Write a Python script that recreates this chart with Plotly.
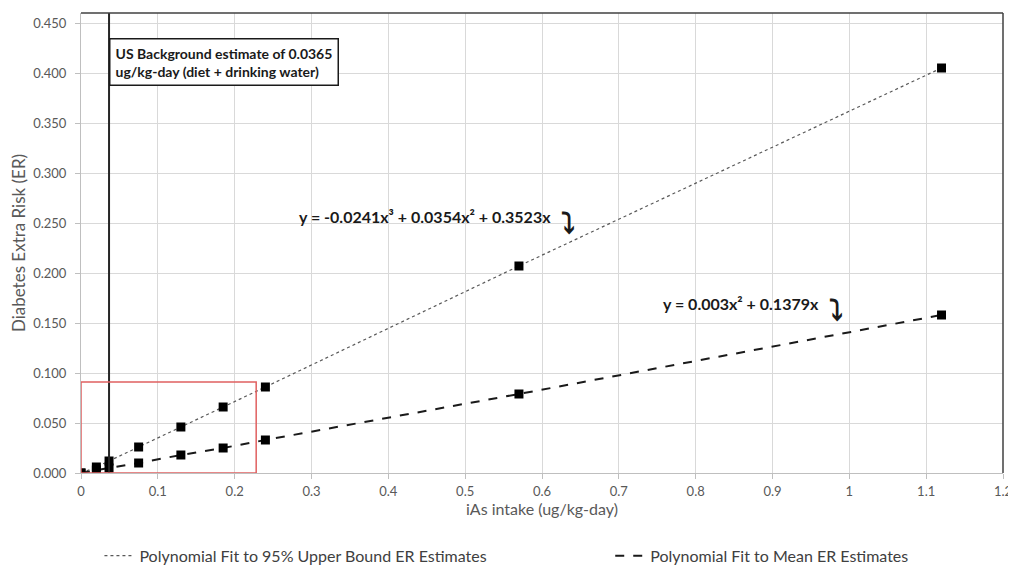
import plotly.graph_objects as go

# Data
x_vals = [0, 0.02, 0.0365, 0.075, 0.13, 0.185, 0.24, 0.57, 1.12]
upper_er = [0, 0.006, 0.012, 0.026, 0.046, 0.066, 0.086, 0.207, 0.405]
mean_er = [0, 0.003, 0.005, 0.010, 0.018, 0.025, 0.033, 0.079, 0.158]
background_x = 0.0365
x_ticks = [0, 0.1, 0.2, 0.3, 0.4, 0.5, 0.6, 0.7, 0.8, 0.9, 1.0, 1.1, 1.2]
x_tick_labels = ["0", "0.1", "0.2", "0.3", "0.4", "0.5", "0.6", "0.7", "0.8", "0.9", "1", "1.1", "1.2"]
y_ticks = [0, 0.05, 0.1, 0.15, 0.2, 0.25, 0.3, 0.35, 0.4, 0.45]
y_tick_labels = ["0.000", "0.050", "0.100", "0.150", "0.200", "0.250", "0.300", "0.350", "0.400", "0.450"]
upper_eq = "y = -0.0241x³ + 0.0354x² + 0.3523x"
mean_eq = "y = 0.003x² + 0.1379x"
bg_label = "US Background estimate of 0.0365<br>ug/kg-day (diet + drinking water)"

FONT = "Lato"
fig = go.Figure()

fig.add_trace(go.Scatter(
    x=x_vals, y=upper_er, mode="lines",
    line=dict(color="#595959", width=1.2, dash="dot"),
    name="Polynomial Fit to 95% Upper Bound ER Estimates", legend="legend"))
fig.add_trace(go.Scatter(
    x=x_vals, y=mean_er, mode="lines",
    line=dict(color="#1a1a1a", width=2, dash="dash"),
    name="Polynomial Fit to Mean ER Estimates", legend="legend2"))
fig.add_trace(go.Scatter(
    x=x_vals, y=upper_er, mode="markers",
    marker=dict(symbol="square", size=9, color="black"), showlegend=False))
fig.add_trace(go.Scatter(
    x=x_vals, y=mean_er, mode="markers",
    marker=dict(symbol="square", size=9, color="black"), showlegend=False))

# background vertical line
fig.add_shape(type="line", xref="x", yref="paper", x0=background_x, x1=background_x,
              y0=0, y1=1, line=dict(color="#262626", width=2))
# red box
fig.add_shape(type="rect", xref="x", yref="y", x0=0, x1=0.228, y0=0, y1=0.091,
              line=dict(color="#e06060", width=1.5))
# top/right border
fig.add_shape(type="line", xref="paper", yref="paper", x0=0, x1=1, y0=1, y1=1,
              line=dict(color="#404040", width=1.5))
fig.add_shape(type="line", xref="paper", yref="paper", x0=1, x1=1, y0=0, y1=1,
              line=dict(color="#404040", width=1.5))

fig.add_annotation(x=background_x, y=0.411, xref="x", yref="y", xanchor="left", yanchor="middle",
                   text="<b>" + bg_label + "</b>", showarrow=False, align="left",
                   font=dict(family=FONT, size=14, color="#1a1a1a"),
                   bordercolor="#1a1a1a", borderwidth=1.5, borderpad=5, bgcolor="white")
fig.add_annotation(x=0.281, y=0.257, xref="x", yref="y", xanchor="left", yanchor="middle",
                   text="<b>" + upper_eq + "</b>", showarrow=False,
                   font=dict(family=FONT, size=16, color="#1a1a1a"))
fig.add_annotation(x=0.634, y=0.250, xref="x", yref="y", xanchor="center", yanchor="middle",
                   text="<b>⤵</b>", showarrow=False,
                   font=dict(family="DejaVu Sans", size=28, color="#1a1a1a"))
fig.add_annotation(x=0.755, y=0.170, xref="x", yref="y", xanchor="left", yanchor="middle",
                   text="<b>" + mean_eq + "</b>", showarrow=False,
                   font=dict(family=FONT, size=16, color="#1a1a1a"))
fig.add_annotation(x=0.982, y=0.163, xref="x", yref="y", xanchor="center", yanchor="middle",
                   text="<b>⤵</b>", showarrow=False,
                   font=dict(family="DejaVu Sans", size=28, color="#1a1a1a"))

fig.update_layout(
    width=1008, height=560,
    margin=dict(l=73, r=13, t=5, b=95, autoexpand=False),
    paper_bgcolor="white", plot_bgcolor="white",
    font=dict(family=FONT, color="#595959"),
    legend=dict(orientation="h", x=0.02, xanchor="left", y=-0.18, yanchor="middle",
                font=dict(family=FONT, size=16, color="#404040"), bgcolor="rgba(0,0,0,0)"),
    legend2=dict(orientation="h", x=0.574, xanchor="left", y=-0.18, yanchor="middle",
                 font=dict(family=FONT, size=16, color="#404040"), bgcolor="rgba(0,0,0,0)"),
    xaxis=dict(range=[0, 1.2], tickvals=x_ticks, ticktext=x_tick_labels, automargin=False,
               showgrid=True, gridcolor="#d9d9d9", gridwidth=1, zeroline=False,
               showline=True, linecolor="#bfbfbf", linewidth=1,
               ticks="outside", ticklen=5, tickcolor="#bfbfbf", ticklabelstandoff=1,
               tickfont=dict(family=FONT, size=13, color="#595959"),
               title=dict(text="iAs intake (ug/kg-day)", font=dict(family=FONT, size=16, color="#595959"),
                          standoff=6)),
    yaxis=dict(range=[0, 0.46], tickvals=y_ticks, ticktext=y_tick_labels, automargin=False,
               showgrid=True, gridcolor="#d9d9d9", gridwidth=1, zeroline=False,
               showline=True, linecolor="#bfbfbf", linewidth=1,
               ticks="outside", ticklen=5, tickcolor="#bfbfbf", ticklabelstandoff=6,
               tickfont=dict(family=FONT, size=13, color="#595959"),
               title=dict(text="Diabetes Extra Risk (ER)", font=dict(family=FONT, size=17, color="#595959"),
                          standoff=9)),
)

fig.write_html("out.html")
